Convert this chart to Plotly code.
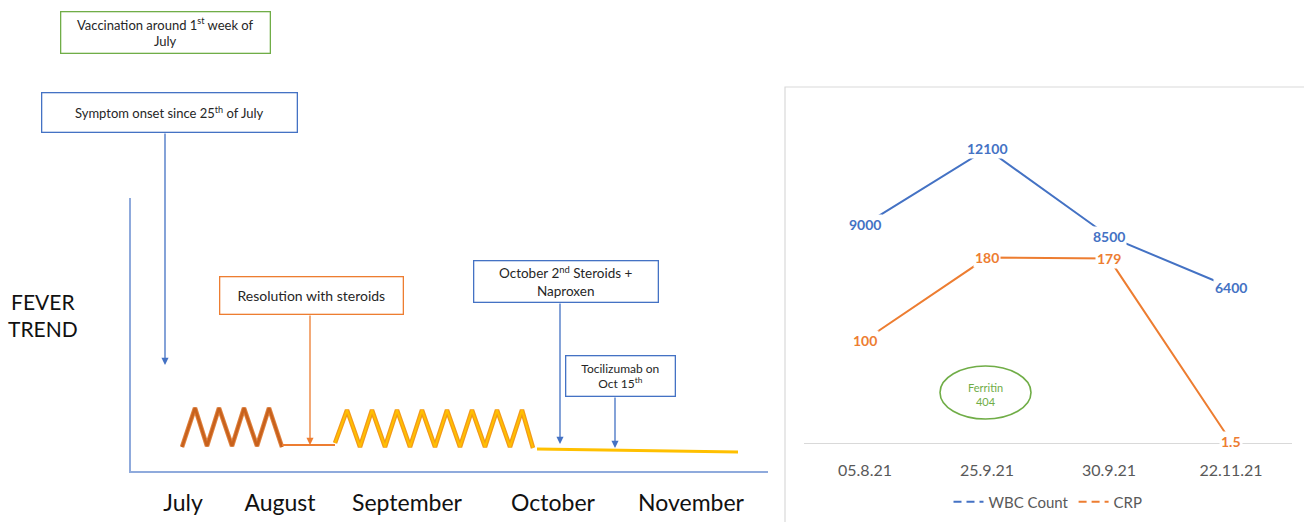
import plotly.graph_objects as go

# ---------------- Fever timeline (schematic) ----------------
# timeline position (x) and fever level (y) of each vertex
fever_phase1_x = [51, 64, 76, 88, 101, 113, 126, 138, 151]
fever_phase1_y = [24, 63, 25, 63, 25, 63, 25, 63, 24]

steroid_gap_x = [151, 204]
steroid_gap_y = [26, 26]

fever_phase2_x = [204, 216, 229, 241, 254, 266, 279, 291, 304,
                  316, 329, 341, 354, 366, 379, 391, 402]
fever_phase2_y = [28, 61, 24, 61, 24, 61, 24, 61, 24,
                  61, 24, 61, 24, 61, 24, 61, 23]

afebrile_x = [406, 607]
afebrile_y = [22, 19]

month_labels = ["July", "August", "September", "October", "November"]
month_pos = [52, 149, 276, 422, 560]

# ---------------- Lab values ----------------
lab_dates = ["05.8.21", "25.9.21", "30.9.21", "22.11.21"]
wbc_count = [9000, 12100, 8500, 6400]
crp = [100, 180, 179, 1.5]
ferritin = 404

BLUE = "#4472c4"
ORANGE = "#ed7d31"
GREEN = "#70ad47"
FONT = "Lato"

fig = go.Figure()

# fever curves
fig.add_trace(go.Scatter(x=fever_phase1_x, y=fever_phase1_y, mode="lines",
                         line=dict(color="#e08340", width=4.5), xaxis="x", yaxis="y",
                         showlegend=False, hoverinfo="skip"))
fig.add_trace(go.Scatter(x=fever_phase1_x, y=fever_phase1_y, mode="lines",
                         line=dict(color="#c8611c", width=2.5), xaxis="x", yaxis="y",
                         showlegend=False, hoverinfo="skip"))
fig.add_trace(go.Scatter(x=steroid_gap_x, y=steroid_gap_y, mode="lines",
                         line=dict(color=ORANGE, width=2), xaxis="x", yaxis="y",
                         showlegend=False, hoverinfo="skip"))
fig.add_trace(go.Scatter(x=fever_phase2_x, y=fever_phase2_y, mode="lines",
                         line=dict(color="#f39a1a", width=4.5), xaxis="x", yaxis="y",
                         showlegend=False, hoverinfo="skip"))
fig.add_trace(go.Scatter(x=fever_phase2_x, y=fever_phase2_y, mode="lines",
                         line=dict(color="#ffc000", width=2), xaxis="x", yaxis="y",
                         showlegend=False, hoverinfo="skip"))
fig.add_trace(go.Scatter(x=afebrile_x, y=afebrile_y, mode="lines",
                         line=dict(color="#ffc000", width=3), xaxis="x", yaxis="y",
                         showlegend=False, hoverinfo="skip"))

# lab value lines
fig.add_trace(go.Scatter(x=lab_dates, y=wbc_count, mode="lines",
                         line=dict(color=BLUE, width=2), xaxis="x2", yaxis="y2",
                         showlegend=False, hoverinfo="skip"))
fig.add_trace(go.Scatter(x=lab_dates, y=crp, mode="lines",
                         line=dict(color=ORANGE, width=2), xaxis="x2", yaxis="y3",
                         showlegend=False, hoverinfo="skip"))
# legend entries
fig.add_trace(go.Scatter(x=[None], y=[None], mode="lines", name="WBC Count",
                         line=dict(color=BLUE, width=2, dash="8px,5px"),
                         xaxis="x2", yaxis="y2"))
fig.add_trace(go.Scatter(x=[None], y=[None], mode="lines", name="CRP",
                         line=dict(color=ORANGE, width=2, dash="8px,5px"),
                         xaxis="x2", yaxis="y3"))

annotations = []

# value labels
for d, v in zip(lab_dates, wbc_count):
    annotations.append(dict(x=d, y=v, xref="x2", yref="y2", text=f"<b>{v}</b>",
                            showarrow=False, bgcolor="white", borderpad=1,
                            font=dict(family=FONT, size=14, color=BLUE)))
for d, v in zip(lab_dates, crp):
    annotations.append(dict(x=d, y=v, xref="x2", yref="y3", text=f"<b>{v:g}</b>",
                            showarrow=False, bgcolor="white", borderpad=1,
                            font=dict(family=FONT, size=14, color=ORANGE)))

# ferritin bubble text
annotations.append(dict(x=985 / 1304, y=1 - 394 / 522, xref="paper", yref="paper",
                        xanchor="center", yanchor="middle",
                        text=f"Ferritin<br>{ferritin}", showarrow=False,
                        font=dict(family=FONT, size=11, color=GREEN)))

# event boxes (paper coordinates, centre in px)
def box(cx, cy, w, h, text, color, size=13):
    annotations.append(dict(x=cx / 1304, y=1 - cy / 522, xref="paper", yref="paper",
                            xanchor="center", yanchor="middle",
                            text=text, showarrow=False,
                            width=w, height=h, borderpad=0, bordercolor=color,
                            borderwidth=1.3, bgcolor="white", align="center",
                            valign="middle",
                            font=dict(family=FONT, size=size, color="#262626")))

# arrows pointing to moments on the timeline
def arrow(x, y_tip, y_tail, color):
    annotations.append(dict(x=x, y=y_tip, ax=x, ay=y_tail, xref="x", yref="y",
                            axref="x", ayref="y", text="", showarrow=True,
                            arrowhead=2, arrowsize=1.1, arrowwidth=1.3,
                            arrowcolor=color, standoff=0))

arrow(34, 106, 339, BLUE)
arrow(179, 26, 157, ORANGE)
arrow(429, 27, 169, BLUE)
arrow(484, 23, 75, BLUE)

box(165, 33, 208, 40, "Vaccination around 1<sup>st</sup> week of<br>July", GREEN, 13)
box(169, 112, 254, 38, "Symptom onset since 25<sup>th</sup> of July", BLUE, 13)
box(311, 295, 182, 36, "Resolution with steroids", ORANGE, 14)
box(565.5, 281, 183, 40, "October 2<sup>nd</sup> Steroids +<br>Naproxen", BLUE, 13.5)
box(620, 375.5, 108, 39, "Tocilizumab on<br>Oct 15<sup>th</sup>", BLUE, 12)

annotations.append(dict(x=43 / 1304, y=1 - 315 / 522, xref="paper", yref="paper",
                        xanchor="center", yanchor="middle",
                        text="FEVER<br>TREND", showarrow=False, align="center",
                        font=dict(family=FONT, size=21, color="#111111")))

shapes = [
    # lab chart frame
    dict(type="rect", xref="paper", yref="paper", x0=785 / 1304, x1=1.01,
         y0=-0.01, y1=1 - 87 / 522, line=dict(color="#d9d9d9", width=1.2),
         fillcolor="rgba(0,0,0,0)", layer="below"),
    # ferritin bubble
    dict(type="circle", xref="paper", yref="paper", x0=940 / 1304, x1=1031 / 1304,
         y0=1 - 419 / 522, y1=1 - 366 / 522, line=dict(color=GREEN, width=1.6)),
]

fig.update_layout(
    width=1304, height=522,
    margin=dict(l=0, r=0, t=0, b=0),
    paper_bgcolor="white", plot_bgcolor="white",
    font=dict(family=FONT),
    xaxis=dict(domain=[131 / 1304, 768 / 1304], range=[0, 637], anchor="y",
               showline=True, linecolor="#8faadc", linewidth=2,
               showgrid=False, zeroline=False, ticks="",
               tickmode="array", tickvals=month_pos, ticktext=month_labels,
               tickfont=dict(family=FONT, size=23, color="#111111"),
               ticklabelstandoff=10),
    yaxis=dict(domain=[51 / 522, 324 / 522], range=[0, 273], anchor="x",
               showline=True, linecolor="#8faadc", linewidth=2,
               showgrid=False, zeroline=False, showticklabels=False, ticks=""),
    xaxis2=dict(domain=[804 / 1304, 1292 / 1304], type="category",
                range=[-0.5, 3.5], anchor="y2",
                showline=True, linecolor="#d9d9d9", linewidth=1.2,
                showgrid=False, zeroline=False, ticks="",
                tickfont=dict(family=FONT, size=16, color="#595959"),
                ticklabelstandoff=13),
    yaxis2=dict(domain=[79 / 522, 422 / 522], range=[0, 14115], anchor="x2",
                visible=False),
    yaxis3=dict(range=[0, 333], overlaying="y2", anchor="x2", visible=False),
    legend=dict(orientation="h", x=1048 / 1304, xanchor="center",
                y=1 - 502 / 522, yanchor="middle",
                font=dict(family=FONT, size=15, color="#595959"),
                bgcolor="rgba(0,0,0,0)", itemwidth=30),
    annotations=annotations,
    shapes=shapes,
)

fig.write_html("out.html")
